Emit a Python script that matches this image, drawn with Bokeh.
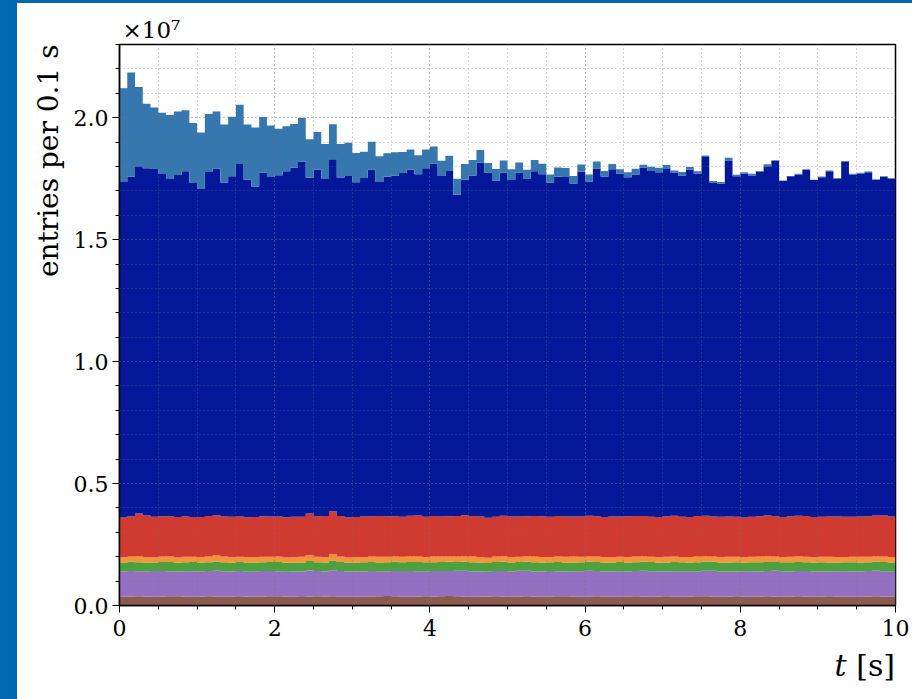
import numpy as np
from bokeh.plotting import figure
from bokeh.models import SingleIntervalTicker, Range1d, Spacer, PrintfTickFormatter, Title, Div
from bokeh.layouts import row, column
from bokeh.embed import file_html
from bokeh.resources import INLINE

# Stacked time histogram, 100 bins of 0.1 s, entries in units of 1e7
bin_width = 0.1
n_bins = 100

brown_entries = [
    0.036, 0.037, 0.038, 0.037, 0.036, 0.037, 0.038, 0.038, 0.037, 0.036,
    0.037, 0.038, 0.037, 0.036, 0.037, 0.038, 0.037, 0.036, 0.037, 0.038,
    0.038, 0.037, 0.036, 0.035, 0.037, 0.038, 0.037, 0.038, 0.037, 0.036,
    0.037, 0.036, 0.037, 0.038, 0.039, 0.038, 0.037, 0.036, 0.037, 0.038,
    0.037, 0.038, 0.039, 0.038, 0.037, 0.036, 0.037, 0.037, 0.038, 0.037,
    0.036, 0.037, 0.038, 0.037, 0.036, 0.037, 0.038, 0.038, 0.037, 0.036,
    0.037, 0.038, 0.037, 0.036, 0.036, 0.037, 0.038, 0.037, 0.036, 0.037,
    0.038, 0.037, 0.036, 0.037, 0.038, 0.038, 0.037, 0.036, 0.037, 0.038,
    0.037, 0.036, 0.037, 0.038, 0.037, 0.036, 0.037, 0.038, 0.037, 0.036,
    0.037, 0.038, 0.037, 0.036, 0.037, 0.036, 0.037, 0.038, 0.037, 0.036,
]

purple_entries = [
    0.103, 0.104, 0.102, 0.103, 0.105, 0.104, 0.102, 0.101, 0.103, 0.104,
    0.102, 0.103, 0.105, 0.104, 0.102, 0.103, 0.101, 0.102, 0.104, 0.103,
    0.102, 0.101, 0.103, 0.104, 0.106, 0.103, 0.102, 0.107, 0.104, 0.103,
    0.102, 0.103, 0.104, 0.102, 0.101, 0.103, 0.104, 0.105, 0.103, 0.102,
    0.104, 0.103, 0.102, 0.104, 0.105, 0.103, 0.102, 0.101, 0.103, 0.104,
    0.103, 0.105, 0.104, 0.102, 0.103, 0.104, 0.102, 0.101, 0.103, 0.104,
    0.105, 0.103, 0.102, 0.103, 0.104, 0.102, 0.103, 0.105, 0.104, 0.102,
    0.101, 0.103, 0.104, 0.103, 0.102, 0.104, 0.105, 0.103, 0.102, 0.101,
    0.103, 0.104, 0.102, 0.103, 0.105, 0.104, 0.102, 0.103, 0.104, 0.103,
    0.102, 0.101, 0.103, 0.104, 0.102, 0.103, 0.104, 0.105, 0.103, 0.102,
]

green_entries = [
    0.036, 0.038, 0.037, 0.036, 0.035, 0.037, 0.038, 0.036, 0.037, 0.038,
    0.037, 0.036, 0.038, 0.037, 0.036, 0.037, 0.038, 0.037, 0.036, 0.037,
    0.038, 0.037, 0.036, 0.037, 0.039, 0.036, 0.037, 0.040, 0.037, 0.036,
    0.037, 0.038, 0.037, 0.036, 0.037, 0.038, 0.036, 0.037, 0.038, 0.037,
    0.036, 0.037, 0.038, 0.036, 0.037, 0.038, 0.037, 0.036, 0.037, 0.038,
    0.037, 0.036, 0.037, 0.038, 0.037, 0.036, 0.038, 0.037, 0.036, 0.037,
    0.038, 0.037, 0.036, 0.037, 0.038, 0.037, 0.036, 0.037, 0.038, 0.036,
    0.037, 0.038, 0.037, 0.036, 0.037, 0.038, 0.037, 0.036, 0.037, 0.038,
    0.036, 0.037, 0.038, 0.037, 0.036, 0.037, 0.038, 0.037, 0.036, 0.037,
    0.038, 0.037, 0.036, 0.037, 0.038, 0.037, 0.036, 0.037, 0.038, 0.037,
]

orange_entries = [
    0.023, 0.022, 0.025, 0.023, 0.022, 0.023, 0.024, 0.022, 0.023, 0.022,
    0.023, 0.024, 0.025, 0.024, 0.023, 0.022, 0.023, 0.024, 0.023, 0.022,
    0.023, 0.022, 0.023, 0.024, 0.025, 0.023, 0.022, 0.026, 0.023, 0.022,
    0.023, 0.022, 0.023, 0.024, 0.023, 0.022, 0.023, 0.024, 0.023, 0.022,
    0.024, 0.023, 0.022, 0.023, 0.024, 0.025, 0.023, 0.022, 0.023, 0.024,
    0.023, 0.022, 0.023, 0.024, 0.023, 0.022, 0.023, 0.024, 0.025, 0.023,
    0.022, 0.023, 0.024, 0.023, 0.022, 0.023, 0.024, 0.023, 0.022, 0.023,
    0.024, 0.023, 0.022, 0.023, 0.024, 0.023, 0.022, 0.023, 0.024, 0.023,
    0.022, 0.023, 0.024, 0.025, 0.023, 0.022, 0.023, 0.024, 0.023, 0.022,
    0.023, 0.024, 0.023, 0.022, 0.023, 0.024, 0.023, 0.022, 0.023, 0.024,
]

red_entries = [
    0.163, 0.165, 0.175, 0.170, 0.166, 0.165, 0.164, 0.166, 0.165, 0.163,
    0.164, 0.166, 0.165, 0.164, 0.166, 0.165, 0.163, 0.164, 0.166, 0.165,
    0.164, 0.165, 0.166, 0.164, 0.170, 0.166, 0.169, 0.175, 0.166, 0.165,
    0.164, 0.166, 0.165, 0.167, 0.166, 0.165, 0.164, 0.166, 0.168, 0.165,
    0.166, 0.164, 0.165, 0.166, 0.167, 0.165, 0.166, 0.164, 0.163, 0.165,
    0.166, 0.165, 0.164, 0.166, 0.167, 0.165, 0.166, 0.165, 0.164, 0.165,
    0.166, 0.165, 0.164, 0.166, 0.165, 0.167, 0.166, 0.165, 0.164, 0.165,
    0.166, 0.167, 0.165, 0.164, 0.166, 0.165, 0.164, 0.166, 0.165, 0.164,
    0.163, 0.164, 0.165, 0.166, 0.165, 0.164, 0.165, 0.166, 0.167, 0.165,
    0.164, 0.165, 0.166, 0.165, 0.164, 0.165, 0.166, 0.167, 0.168, 0.166,
]

darkblue_entries = [
    1.375, 1.392, 1.424, 1.424, 1.426, 1.403, 1.383, 1.402, 1.415, 1.369,
    1.345, 1.410, 1.422, 1.369, 1.396, 1.445, 1.383, 1.355, 1.409, 1.392,
    1.399, 1.418, 1.432, 1.456, 1.377, 1.422, 1.382, 1.444, 1.388, 1.399,
    1.372, 1.388, 1.420, 1.369, 1.392, 1.396, 1.409, 1.418, 1.399, 1.429,
    1.445, 1.396, 1.415, 1.317, 1.375, 1.396, 1.451, 1.415, 1.377, 1.406,
    1.379, 1.410, 1.383, 1.413, 1.402, 1.369, 1.391, 1.392, 1.365, 1.413,
    1.369, 1.426, 1.396, 1.424, 1.406, 1.390, 1.399, 1.429, 1.417, 1.413,
    1.424, 1.407, 1.399, 1.424, 1.403, 1.471, 1.369, 1.365, 1.459, 1.396,
    1.410, 1.399, 1.413, 1.432, 1.456, 1.377, 1.395, 1.399, 1.420, 1.381,
    1.392, 1.415, 1.385, 1.456, 1.403, 1.406, 1.410, 1.377, 1.388, 1.385,
]

lightblue_entries = [
    0.385, 0.427, 0.325, 0.264, 0.252, 0.251, 0.262, 0.260, 0.250, 0.246,
    0.231, 0.238, 0.233, 0.238, 0.244, 0.243, 0.227, 0.242, 0.228, 0.211,
    0.191, 0.185, 0.178, 0.179, 0.158, 0.153, 0.143, 0.143, 0.137, 0.136,
    0.120, 0.107, 0.115, 0.106, 0.096, 0.096, 0.086, 0.084, 0.078, 0.077,
    0.070, 0.062, 0.063, 0.066, 0.065, 0.063, 0.051, 0.039, 0.049, 0.050,
    0.045, 0.041, 0.037, 0.046, 0.043, 0.034, 0.038, 0.037, 0.031, 0.030,
    0.030, 0.028, 0.022, 0.021, 0.018, 0.020, 0.025, 0.011, 0.018, 0.019,
    0.016, 0.008, 0.014, 0.011, 0.010, 0.006, 0.006, 0.007, 0.012, 0.006,
    0.005, 0.007, 0.002, 0.008, 0.003, 0.002, 0.001, 0.003, 0.002, 0.002,
    0.003, 0.003, 0.003, 0.002, 0.003, 0.003, 0.003, 0.002, 0.003, 0.003,
]

layers = [
    (brown_entries, "#8c5a4e"),
    (purple_entries, "#9470c2"),
    (green_entries, "#4ba23c"),
    (orange_entries, "#f5923a"),
    (red_entries, "#cf3b30"),
    (darkblue_entries, "#05189a"),
    (lightblue_entries, "#3677b0"),
]

edges = np.arange(n_bins + 1) * bin_width

BLUE = "#0067b1"
SERIF = "DejaVu Serif"

p = figure(
    width=895, height=647,
    x_range=Range1d(0, 10), y_range=Range1d(0, 2.3),
    output_backend="svg", toolbar_location=None,
    min_border_left=102, min_border_right=17,
    min_border_top=41, min_border_bottom=45,
)
p.background_fill_color = "white"
p.border_fill_color = "white"
p.outline_line_color = "black"
p.outline_line_width = 1.5

# stacked step-filled areas
bottom = np.zeros(n_bins)
for entries, color in layers:
    vals = np.asarray(entries, dtype=float)
    top = bottom + vals
    p.varea_step(
        x=edges,
        y1=np.append(bottom, bottom[-1]),
        y2=np.append(top, top[-1]),
        step_mode="after",
        fill_color=color,
    )
    bottom = top

# axes
p.xaxis.ticker = SingleIntervalTicker(interval=2, num_minor_ticks=4)
p.yaxis.ticker = SingleIntervalTicker(interval=0.5, num_minor_ticks=5)
p.yaxis.formatter = PrintfTickFormatter(format="%.1f")
for ax in (p.xaxis[0], p.yaxis[0]):
    ax.axis_line_color = "black"
    ax.axis_line_width = 1.5
    ax.major_tick_line_color = "black"
    ax.minor_tick_line_color = "black"
    ax.major_tick_in = 0
    ax.major_tick_out = 7
    ax.minor_tick_in = 0
    ax.minor_tick_out = 4
    ax.major_label_text_font = SERIF
    ax.major_label_text_font_size = "22px"
    ax.major_label_text_color = "black"
p.xaxis.major_label_standoff = 7
p.yaxis.major_label_standoff = 4

# dotted grid drawn over the bars
for g in (p.xgrid[0], p.ygrid[0]):
    g.level = "overlay"
    g.grid_line_color = "#777777"
    g.grid_line_alpha = 0.55
    g.grid_line_dash = "1 3"
    g.grid_line_width = 1
    g.minor_grid_line_color = "#777777"
    g.minor_grid_line_alpha = 0.55
    g.minor_grid_line_dash = "1 3"
    g.minor_grid_line_width = 1

# y label and scale factor as side titles
p.add_layout(Title(text="entries per 0.1 s", align="right", text_font=SERIF,
                   text_font_size="28px", text_font_style="normal",
                   text_color="black", standoff=12), "left")
p.add_layout(Title(text="×10⁷", align="left", text_font=SERIF,
                   text_font_size="23px", text_font_style="normal",
                   text_color="black", standoff=4, offset=3), "above")

# x label, right-aligned under the axis end
x_label = Div(
    text=('<div style="font-family:\'DejaVu Serif\';font-size:30px;'
          'line-height:32px;width:878px;text-align:right;color:black">'
          '<i>t</i> [s]</div>'),
    width=895, height=49, margin=0,
    styles={"background-color": "white"},
)

left_bar = Spacer(width=17, height=699, styles={"background-color": BLUE})
top_bar = Spacer(width=895, height=3, styles={"background-color": BLUE})
page = row(left_bar, column(top_bar, p, x_label, spacing=0), spacing=0)

open("out.html", "w").write(file_html(page, INLINE))
